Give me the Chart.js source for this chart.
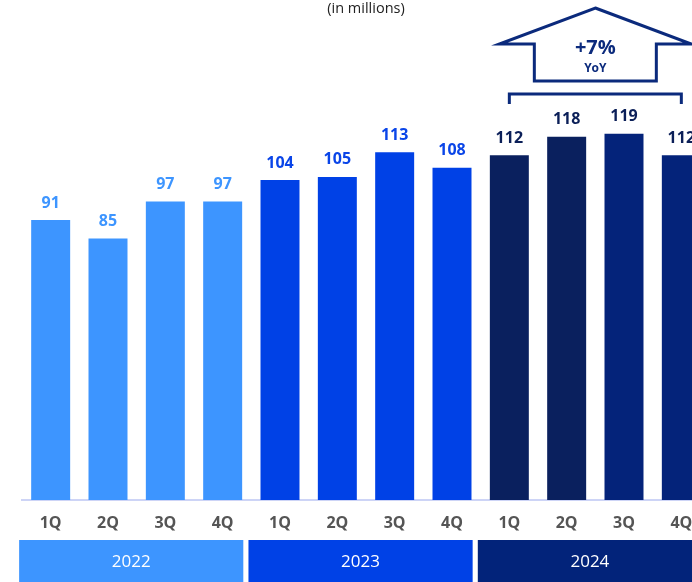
<!DOCTYPE html>
<html>
<head>
<meta charset="utf-8">
<script src="https://cdn.jsdelivr.net/npm/chart.js@4/dist/chart.umd.min.js"></script>
<style>
  html, body { margin: 0; padding: 0; overflow: hidden; background: #fff; }
  .chart-wrap { width: 710px; height: 582px; }
</style>
</head>
<body>
<div class="chart-wrap"><canvas id="quarterly-chart"></canvas></div>
<script>
"use strict";

var quarters = ['1Q', '2Q', '3Q', '4Q', '1Q', '2Q', '3Q', '4Q', '1Q', '2Q', '3Q', '4Q'];
var users = [91, 85, 97, 97, 104, 105, 113, 108, 112, 118, 119, 112];
var years = ['2022', '2023', '2024'];
var yearStart = [0, 4, 8];
var yearColors = ['#3d95ff', '#0041e6', '#02237a'];
var barColors = ['#3d95ff', '#3d95ff', '#3d95ff', '#3d95ff',
                 '#0041e6', '#0041e6', '#0041e6', '#0041e6',
                 '#0a205e', '#0a205e', '#04237a', '#04237a'];
var labelColors = ['#3d95ff', '#3d95ff', '#3d95ff', '#3d95ff',
                   '#0a45e8', '#0a45e8', '#0a45e8', '#0a45e8',
                   '#0b1f58', '#0b1f58', '#0b1f58', '#0b1f58'];
var growth = '+7%';
var growthNote = 'YoY';
var FONT = "'Open Sans', 'Noto Sans', sans-serif";

// numbers above each bar
var valueLabels = {
  id: 'valueLabels',
  afterDatasetsDraw: function (chart) {
    var ctx = chart.ctx;
    var meta = chart.getDatasetMeta(0);
    ctx.save();
    ctx.font = 'bold 16px ' + FONT;
    ctx.textAlign = 'center';
    ctx.textBaseline = 'middle';
    meta.data.forEach(function (bar, i) {
      ctx.fillStyle = labelColors[i];
      ctx.fillText(users[i], bar.x, bar.y - 17);
    });
    ctx.restore();
  }
};

// coloured year strips under the quarter labels
var yearBands = {
  id: 'yearBands',
  afterDraw: function (chart) {
    var ctx = chart.ctx;
    var x = chart.scales.x;
    var pitch = x.getPixelForValue(1) - x.getPixelForValue(0);
    var top = chart.chartArea.bottom + 40;
    var bottom = chart.height;
    ctx.save();
    years.forEach(function (yr, k) {
      var first = yearStart[k];
      var last = first + 3;
      var left = x.getPixelForValue(first) - pitch * 0.55;
      var right = x.getPixelForValue(last) + pitch * 0.36;
      ctx.fillStyle = yearColors[k];
      ctx.fillRect(left, top, right - left, bottom - top);
      ctx.fillStyle = '#ffffff';
      ctx.font = '17px ' + FONT;
      ctx.textAlign = 'center';
      ctx.textBaseline = 'middle';
      ctx.fillText(yr, (left + right) / 2, (top + bottom) / 2 + 1);
    });
    ctx.restore();
  }
};

// growth arrow and bracket over the 2024 quarters
var growthArrow = {
  id: 'growthArrow',
  afterDraw: function (chart) {
    var ctx = chart.ctx;
    var x = chart.scales.x;
    var x1 = x.getPixelForValue(8);
    var x2 = x.getPixelForValue(11);
    var cx = (x1 + x2) / 2;
    var navy = '#0b2a7c';
    ctx.save();
    ctx.strokeStyle = navy;
    ctx.lineWidth = 3;
    ctx.lineJoin = 'miter';

    ctx.beginPath();
    ctx.moveTo(x1, 104);
    ctx.lineTo(x1, 94);
    ctx.lineTo(x2, 94);
    ctx.lineTo(x2, 104);
    ctx.stroke();

    ctx.beginPath();
    ctx.moveTo(cx, 8);
    ctx.lineTo(cx + 96, 44);
    ctx.lineTo(cx + 61, 44);
    ctx.lineTo(cx + 61, 81);
    ctx.lineTo(cx - 61, 81);
    ctx.lineTo(cx - 61, 44);
    ctx.lineTo(cx - 96, 44);
    ctx.closePath();
    ctx.stroke();

    ctx.fillStyle = navy;
    ctx.textAlign = 'center';
    ctx.textBaseline = 'middle';
    ctx.font = 'bold 20px ' + FONT;
    ctx.fillText(growth, cx, 48);
    ctx.font = 'bold 12px ' + FONT;
    ctx.fillText(growthNote, cx, 69);
    ctx.restore();
  }
};

var ctx1 = document.getElementById('quarterly-chart');
new Chart(ctx1, {
  type: 'bar',
  data: {
    labels: quarters,
    datasets: [{
      label: 'Users',
      data: users,
      backgroundColor: barColors,
      borderWidth: 0,
      categoryPercentage: 1,
      barPercentage: 0.68
    }]
  },
  options: {
    responsive: true,
    maintainAspectRatio: false,
    animation: false,
    layout: {
      padding: { left: 22, right: 0, top: 0, bottom: 42 }
    },
    plugins: {
      legend: { display: false },
      tooltip: { enabled: false },
      title: {
        display: true,
        text: '(in millions)',
        color: '#222222',
        font: { family: FONT, size: 14.5, weight: 'normal' },
        padding: { top: 0, bottom: 21 }
      }
    },
    scales: {
      y: {
        display: false,
        min: 0,
        max: 150
      },
      x: {
        grid: { display: false, drawTicks: false },
        border: { display: true, color: '#cdd4f6', width: 2 },
        ticks: {
          color: '#555555',
          padding: 14,
          font: { family: FONT, size: 16, weight: 'bold' }
        },
        afterFit: function (scale) {
          scale.height = 40;
        }
      }
    }
  },
  plugins: [valueLabels, yearBands, growthArrow]
});
</script>
</body>
</html>
